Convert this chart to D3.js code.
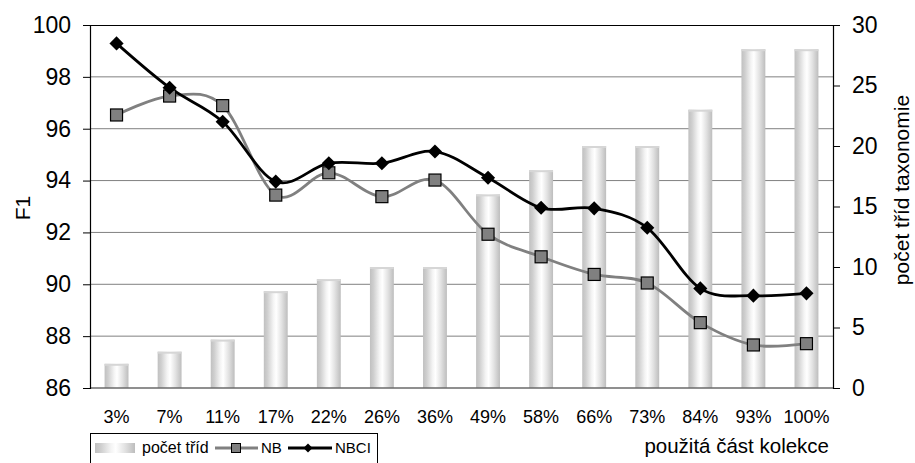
<!DOCTYPE html>
<html lang="cs">
<head>
  <meta charset="UTF-8">
  <script src="https://cdn.jsdelivr.net/npm/d3@7"></script>
  <style>
    body { margin: 0; background: #fff; }
    text { font-family: "Liberation Sans", Arial, sans-serif; fill: #000; }
  </style>
</head>
<body>
  <svg width="915" height="463"></svg>
<script>
  const categories = ["3%", "7%", "11%", "17%", "22%", "26%", "36%", "49%", "58%", "66%", "73%", "84%", "93%", "100%"];
  const classCount = [2, 3, 4, 8, 9, 10, 10, 16, 18, 20, 20, 23, 28, 28];
  const nbValues = [96.53, 97.26, 96.89, 93.44, 94.3, 93.38, 94.02, 91.93, 91.06, 90.38, 90.05, 88.52, 87.66, 87.71];
  const nbciValues = [99.29, 97.58, 96.27, 93.96, 94.67, 94.67, 95.12, 94.11, 92.95, 92.93, 92.18, 89.84, 89.56, 89.65];
  const leftTicks = [86, 88, 90, 92, 94, 96, 98, 100];
  const rightTicks = [0, 5, 10, 15, 20, 25, 30];

  const svg = d3.select("svg");
  const plotLeft = 90, plotRight = 833, plotTop = 25, plotBottom = 388;

  const x = d3.scaleBand()
    .domain(categories)
    .range([plotLeft, plotRight])
    .paddingInner(0.55)
    .paddingOuter(0.275);
  const cx = d => x(d) + x.bandwidth() / 2;

  const yLeft = d3.scaleLinear().domain([86, 100]).range([plotBottom, plotTop]);
  const yRight = d3.scaleLinear().domain([0, 30]).range([plotBottom, plotTop]);

  // gradient for the cylinder-like bars
  const defs = svg.append("defs");
  const grad = defs.append("linearGradient").attr("id", "barGrad")
    .attr("x1", "0%").attr("x2", "100%").attr("y1", "0%").attr("y2", "0%");
  [["0%", "#c0c0c0"], ["15%", "#cfcfcf"], ["40%", "#f4f4f4"], ["52%", "#ffffff"], ["75%", "#e2e2e2"], ["100%", "#bdbdbd"]]
    .forEach(s => grad.append("stop").attr("offset", s[0]).attr("stop-color", s[1]));

  // gridlines
  svg.append("g")
    .selectAll("line")
    .data(leftTicks.slice(1, -1))
    .join("line")
    .attr("x1", plotLeft).attr("x2", plotRight)
    .attr("y1", d => yLeft(d)).attr("y2", d => yLeft(d))
    .attr("stroke", "#808080").attr("stroke-width", 1);

  // bars
  const bars = svg.append("g");
  bars.selectAll("rect.bar")
    .data(categories)
    .join("rect")
    .attr("class", "bar")
    .attr("x", d => x(d))
    .attr("width", x.bandwidth())
    .attr("y", (d, i) => yRight(classCount[i]))
    .attr("height", (d, i) => plotBottom - yRight(classCount[i]))
    .attr("fill", "url(#barGrad)");
  bars.selectAll("rect.cap")
    .data(categories)
    .join("rect")
    .attr("class", "cap")
    .attr("x", d => x(d))
    .attr("width", x.bandwidth())
    .attr("y", (d, i) => yRight(classCount[i]))
    .attr("height", 2)
    .attr("fill", "#d6d6d6");

  // frame: top line and bottom axis line
  svg.append("line").attr("x1", plotLeft).attr("x2", plotRight).attr("y1", plotTop + 0.5).attr("y2", plotTop + 0.5)
    .attr("stroke", "#000").attr("stroke-width", 1.2);
  svg.append("line").attr("x1", plotLeft).attr("x2", plotRight).attr("y1", plotBottom).attr("y2", plotBottom)
    .attr("stroke", "#6a6a6a").attr("stroke-width", 1.5);

  // left axis
  const axL = svg.append("g")
    .attr("transform", "translate(" + plotLeft + ",0)")
    .call(d3.axisLeft(yLeft).tickValues(leftTicks).tickSize(7).tickPadding(12).tickFormat(d3.format("d")));
  axL.select(".domain").attr("stroke", "#000").attr("stroke-width", 1.2);
  axL.selectAll("line").attr("stroke", "#000");
  axL.selectAll("text").style("font-size", "23px").attr("fill", "#000");

  // right axis
  const axR = svg.append("g")
    .attr("transform", "translate(" + plotRight + ",0)")
    .call(d3.axisRight(yRight).tickValues(rightTicks).tickSize(7).tickPadding(12));
  axR.select(".domain").attr("stroke", "#000").attr("stroke-width", 1.2);
  axR.selectAll("line").attr("stroke", "#000");
  axR.selectAll("text").style("font-size", "23px").attr("fill", "#000");

  // category labels
  const axB = svg.append("g")
    .attr("transform", "translate(0," + plotBottom + ")")
    .call(d3.axisBottom(x).tickSize(0).tickPadding(22));
  axB.select(".domain").remove();
  axB.selectAll("text").style("font-size", "18px").attr("fill", "#000");

  // lines
  const line = (vals) => d3.line()
    .x((d, i) => cx(categories[i]))
    .y(d => yLeft(d))
    .curve(d3.curveCardinal.tension(0))(vals);

  svg.append("path").attr("d", line(nbValues))
    .attr("fill", "none").attr("stroke", "#808080").attr("stroke-width", 2.8);
  svg.append("path").attr("d", line(nbciValues))
    .attr("fill", "none").attr("stroke", "#000").attr("stroke-width", 2.8);

  svg.append("g").selectAll("rect")
    .data(nbValues)
    .join("rect")
    .attr("x", (d, i) => cx(categories[i]) - 6)
    .attr("y", d => yLeft(d) - 6)
    .attr("width", 12).attr("height", 12)
    .attr("fill", "#808080").attr("stroke", "#000").attr("stroke-width", 1.2);

  const diamond = d3.symbol().type(d3.symbolSquare).size(100);
  svg.append("g").selectAll("path")
    .data(nbciValues)
    .join("path")
    .attr("d", diamond)
    .attr("transform", (d, i) => "translate(" + cx(categories[i]) + "," + yLeft(d) + ") rotate(45)")
    .attr("fill", "#000");

  // axis titles
  svg.append("text")
    .attr("transform", "translate(30,208) rotate(-90)")
    .attr("text-anchor", "middle")
    .style("font-size", "21px")
    .text("F1");
  svg.append("text")
    .attr("transform", "translate(909,190) rotate(-90)")
    .attr("text-anchor", "middle")
    .style("font-size", "21px")
    .text("počet tříd taxonomie");
  svg.append("text")
    .attr("x", 829).attr("y", 453)
    .attr("text-anchor", "end")
    .style("font-size", "20.5px")
    .text("použitá část kolekce");

  // legend
  const legend = svg.append("g").attr("transform", "translate(90,433)");
  legend.append("rect")
    .attr("x", 0.5).attr("y", 0.5).attr("width", 287).attr("height", 40)
    .attr("fill", "#fff").attr("stroke", "#000").attr("stroke-width", 1);
  legend.append("rect")
    .attr("x", 5).attr("y", 10).attr("width", 40).attr("height", 10)
    .attr("fill", "url(#barGrad)");
  legend.append("text").attr("x", 52).attr("y", 20).style("font-size", "16px").text("počet tříd");
  legend.append("line").attr("x1", 125).attr("x2", 168).attr("y1", 15).attr("y2", 15)
    .attr("stroke", "#808080").attr("stroke-width", 2.8);
  legend.append("rect").attr("x", 141.5).attr("y", 10.5).attr("width", 9).attr("height", 9)
    .attr("fill", "#808080").attr("stroke", "#000").attr("stroke-width", 1);
  legend.append("text").attr("x", 171).attr("y", 20).style("font-size", "15px").text("NB");
  legend.append("line").attr("x1", 198).attr("x2", 242).attr("y1", 15).attr("y2", 15)
    .attr("stroke", "#000").attr("stroke-width", 2.8);
  legend.append("path").attr("d", d3.symbol().type(d3.symbolSquare).size(40))
    .attr("transform", "translate(218,15) rotate(45)").attr("fill", "#000");
  legend.append("text").attr("x", 245).attr("y", 20).style("font-size", "15px").text("NBCI");
</script>
</body>
</html>
